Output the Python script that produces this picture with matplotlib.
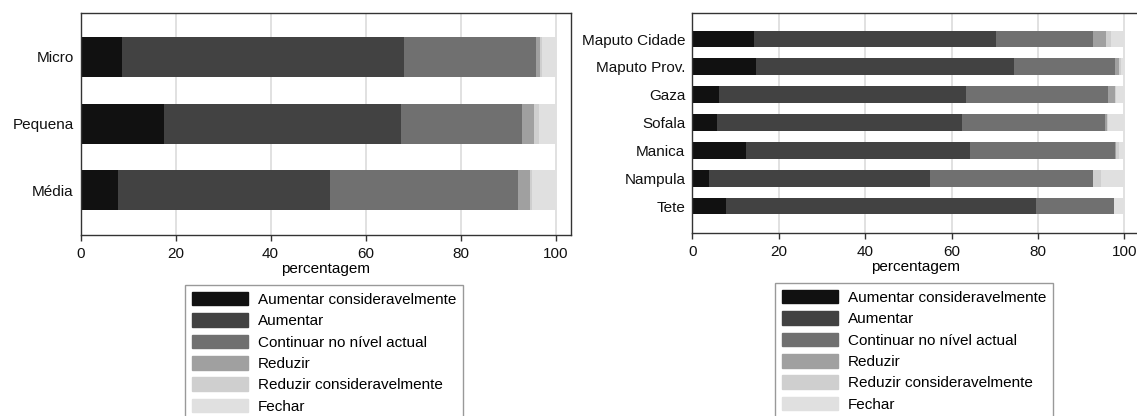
import matplotlib
matplotlib.use("Agg")
import matplotlib.pyplot as plt
import matplotlib.patches as mpatches
import numpy as np

plt.rcParams['font.family'] = ['Liberation Sans', 'DejaVu Sans']
plt.rcParams['font.size'] = 11

# category labels
sizes = ["Micro", "Pequena", "Média"]
provinces = ["Maputo Cidade", "Maputo Prov.", "Gaza", "Sofala", "Manica", "Nampula", "Tete"]

series_names = ["Aumentar consideravelmente", "Aumentar", "Continuar no nível actual",
                "Reduzir", "Reduzir consideravelmente", "Fechar"]
series_colors = ["#111111", "#424242", "#707070", "#a0a0a0", "#cfcfcf", "#e0e0e0"]

# percentages by company size (one list per answer)
size_aum_cons = [8.8, 17.5, 7.8]
size_aum = [59.3, 50.0, 44.8]
size_cont = [27.7, 25.5, 39.4]
size_red = [0.9, 2.4, 2.6]
size_red_cons = [0.4, 1.1, 0.4]
size_fechar = [2.9, 3.5, 5.0]

# percentages by province
prov_aum_cons = [14.3, 14.7, 6.1, 5.7, 12.4, 3.8, 7.7]
prov_aum = [55.9, 59.7, 57.2, 56.7, 51.8, 51.1, 71.9]
prov_cont = [22.5, 23.3, 32.8, 33.0, 33.5, 37.8, 17.9]
prov_red = [3.1, 1.0, 1.8, 0.5, 0.3, 0.0, 0.0]
prov_red_cons = [1.1, 0.4, 0.2, 0.3, 0.8, 1.9, 0.0]
prov_fechar = [3.1, 0.9, 1.9, 3.8, 1.2, 5.4, 2.5]

size_data = [size_aum_cons, size_aum, size_cont, size_red, size_red_cons, size_fechar]
prov_data = [prov_aum_cons, prov_aum, prov_cont, prov_red, prov_red_cons, prov_fechar]

W, H = 1137, 416
fig = plt.figure(figsize=(W / 100, H / 100), dpi=100)


def stacked(ax, cats, data, ylim):
    y = np.arange(len(cats))
    left = np.zeros(len(cats))
    for vals, col in zip(data, series_colors):
        ax.barh(y, vals, left=left, height=0.6, color=col, edgecolor='none', zorder=2)
        left += np.array(vals)
    ax.set_yticks(y)
    ax.set_yticklabels(cats)
    ax.set_ylim(*ylim)
    ax.set_xlim(0, 103.2)
    ax.set_xticks([0, 20, 40, 60, 80, 100])
    ax.grid(axis='x', color='#dedede', linewidth=1.3, zorder=0)
    ax.set_axisbelow(True)
    ax.tick_params(axis='y', length=0, pad=5, labelcolor='#111111')
    ax.tick_params(axis='x', length=4, width=1, color='#333333', pad=5, labelcolor='#111111')
    for s in ax.spines.values():
        s.set_color('#333333')
        s.set_linewidth(1.0)
    ax.set_xlabel("percentagem", labelpad=0)


ax1 = fig.add_axes([80.7 / W, (H - 235) / H, 490 / W, 221.7 / H])
stacked(ax1, sizes, size_data, (2.67, -0.655))

ax2 = fig.add_axes([692.3 / W, (H - 233) / H, 446 / W, 220.3 / H])
stacked(ax2, provinces, prov_data, (6.97, -0.945))
ax2.spines['right'].set_visible(False)

handles = [mpatches.Patch(color=c, label=n) for n, c in zip(series_names, series_colors)]


def add_legend(x, ytop):
    leg = fig.legend(handles=handles, loc='upper left', bbox_to_anchor=(x / W, 1 - ytop / H),
                     bbox_transform=fig.transFigure, borderaxespad=0, fancybox=False,
                     framealpha=1, edgecolor='#999999', handlelength=3.66, handleheight=0.98,
                     handletextpad=0.65, labelspacing=0.42, borderpad=0.45, fontsize=11)
    leg.get_frame().set_linewidth(1.0)


add_legend(185, 285)
add_legend(775, 283)

fig.savefig("out.png", dpi=100)
